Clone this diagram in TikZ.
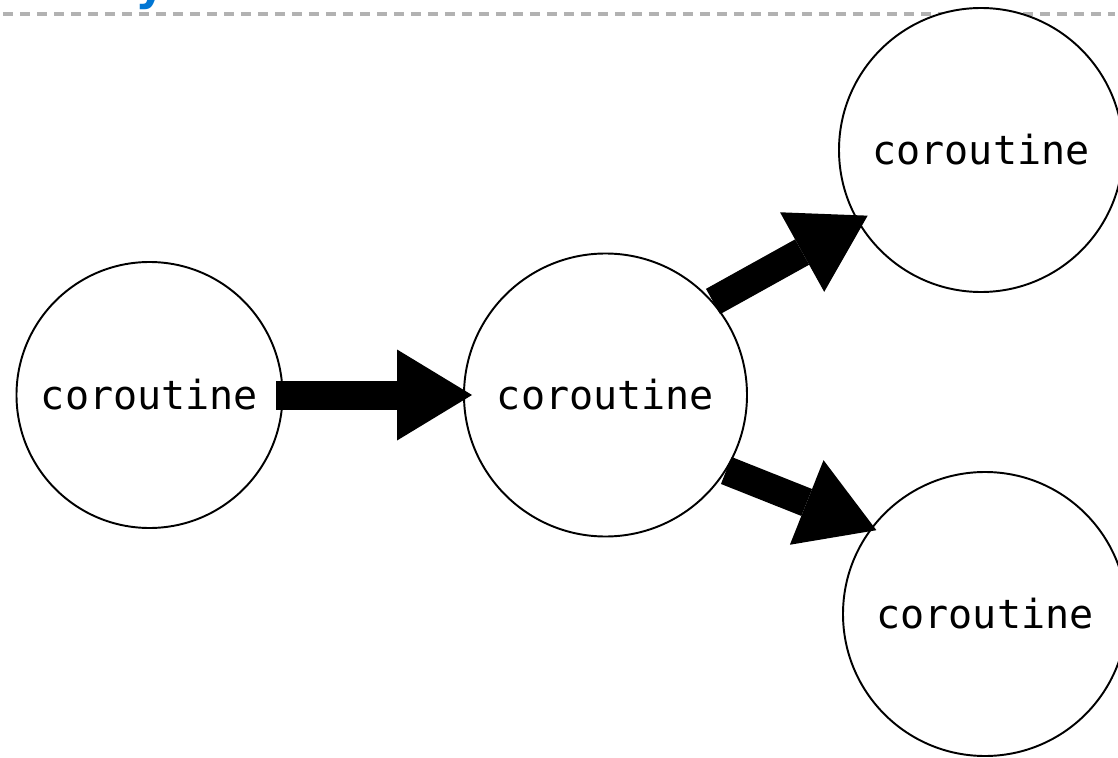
\documentclass[tikz,border=0pt]{standalone}
\usepackage{fontspec}
\setmonofont{DejaVu Sans Mono}
\newfontfamily\titlefont{DejaVu Sans}
\usepackage{xcolor}
\usepackage{tikz}
\usetikzlibrary{arrows.meta,positioning,calc}

\definecolor{titleblue}{RGB}{0,118,212}

\begin{document}
\begin{tikzpicture}[
    co/.style={circle, draw, line width=1.1pt, fill=white,
               minimum size=5.66cm, inner sep=0pt,
               font=\ttfamily\fontsize{22.8}{27}\selectfont},
    flow/.style={line width=0.58cm, line cap=butt,
                 -{Triangle[length=1.5cm, width=1.82cm, line width=0pt]}},
    rule/.style={black!30, line width=2pt, dash pattern=on 0.2cm off 0.14cm},
  ]

  \useasboundingbox (0,0) rectangle (22.36,15.14);

  % ===== Slide header (cut off at the top) =====
  \node[anchor=base west, inner sep=0pt, text=titleblue,
        font=\titlefont\bfseries\fontsize{27}{30}\selectfont] (ttl) at (2.70,15.14) {y};
  \coordinate (rl) at (0.06,14.86);
  \coordinate (rr) at (22.3,14.86);
  \draw[rule] (rl) -- (rr);

  % ===== Coroutines =====
  \node[co, minimum size=5.32cm] (c1) at (2.99, 7.24) {coroutine};
  \node[co] (c2) at (12.11, 7.24) {coroutine};
  \node[co, minimum size=5.68cm] (c3) at (19.62, 12.14) {coroutine};
  \node[co, minimum size=5.68cm] (c4) at (19.70, 2.86) {coroutine};

  % ===== Data flow =====
  \draw[flow, shorten <=-0.14cm, shorten >=-0.18cm] (c1.east) -- (c2.west);
  \draw[flow, shorten >=-0.24cm] (c2.41) -- (c3.210);
  \draw[flow, shorten >=-0.12cm] (c2.-32) -- (c4.143);

\end{tikzpicture}
\end{document}
